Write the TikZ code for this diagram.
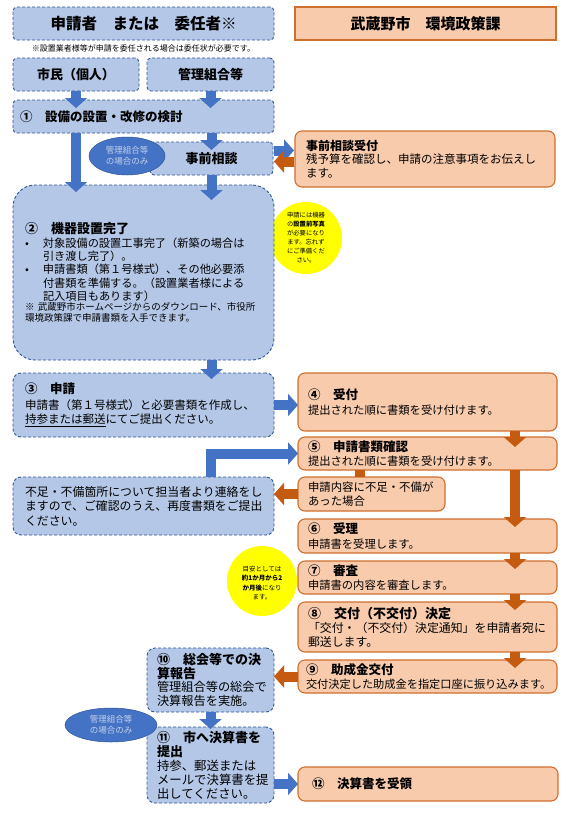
\documentclass[tikz,border=0pt]{standalone}
\usepackage{fontspec}
\setmainfont{Noto Sans CJK JP}
\usetikzlibrary{arrows.meta,shapes.geometric,calc}
\definecolor{lb}{HTML}{B4C7E7}
\definecolor{bd}{HTML}{2F5597}
\definecolor{ab}{HTML}{4472C4}
\definecolor{pe}{HTML}{F8CBAD}
\definecolor{ob}{HTML}{D0702F}
\definecolor{oa}{HTML}{C55A11}
\definecolor{ovt}{HTML}{C5D2EA}
\pgfdeclareradialshading{glow}{\pgfpoint{0bp}{0bp}}{color(0bp)=(yellow); color(27bp)=(yellow); color(50bp)=(white)}
\newcommand{\fs}[2]{\fontsize{#1}{#2}\selectfont}
\begin{document}
\begin{tikzpicture}[x=1pt,y=-1pt,
  bbox/.style={draw=bd, dash pattern=on 3pt off 2pt, line width=0.9pt, fill=lb, rounded corners=4pt, anchor=north west, inner ysep=0pt, outer sep=0pt},
  obox/.style={draw=ob, line width=1.1pt, fill=pe, rounded corners=7pt, anchor=north west, inner ysep=0pt, outer sep=0pt},
  barrow/.style={ab, line width=10pt, -{Triangle[width=22pt,length=10pt]}},
  oarrow/.style={oa, line width=10pt, -{Triangle[width=22pt,length=10pt]}},
  oval/.style={ellipse, fill=ab, draw=bd, line width=0.5pt, text=ovt, align=center, font=\fs{8.5}{10.5}, inner sep=0pt},
  glowtxt/.style={align=center, inner sep=0pt},
]
\useasboundingbox (0,0) rectangle (570,814);
\fill[white] (0,0) rectangle (570,814);

% glows
\shade[shading=glow] (306,238) circle[radius=36pt];
\shade[shading=glow] (262,581) circle[radius=35pt];

% headers
\node[bbox, minimum width=261pt, minimum height=33pt, align=center, font=\fs{15.5}{18}\bfseries] (hdrL) at (13,7) {申請者　または　委任者※};
\node[obox, sharp corners, minimum width=261pt, minimum height=33pt, align=center, font=\fs{15}{18}\bfseries] (hdrR) at (295,7) {武蔵野市　環境政策課};
\node[font=\fs{8}{10}, inner sep=0pt] (note) at (143.5,48) {※設置業者様等が申請を委任される場合は委任状が必要です。};

\node[bbox, minimum width=126pt, minimum height=33pt, font=\fs{13}{15}\bfseries] (shimin) at (13,58) {市民（個人）};
\node[bbox, minimum width=127pt, minimum height=33pt, font=\fs{13}{15}\bfseries] (kanri) at (147,58) {管理組合等};
\node[bbox, minimum height=33pt, inner xsep=7pt, text width=247pt, align=left, font=\fs{12.5}{15}\bfseries] (s1) at (13,100) {①　設備の設置・改修の検討};

% 事前相談
\node[bbox, minimum width=123pt, minimum height=33pt, font=\fs{13}{15}\bfseries] (soudan) at (150,142) {事前相談};
\node[oval, minimum width=76pt, minimum height=38pt] (oval1) at (127,156) {管理組合等\\の場合のみ};
\node[obox, minimum height=56pt, inner xsep=11pt, text width=238pt, align=left, font=\fs{11.5}{13.8}] (jizen) at (295,131) {{\fs{12}{14}\bfseries 事前相談受付}\\残予算を確認し、申請の注意事項をお伝えし\\ます。};

% ②
\node[bbox, rounded corners=22pt, minimum height=175pt, inner xsep=12pt, text width=237pt, align=left] (s2) at (13,185) {%
{\fs{13}{14}\bfseries ②　機器設置完了\par}
{\fs{11.2}{13.3}\makebox[18pt][l]{•}対象設備の設置工事完了（新築の場合は\\
\hspace*{18pt}引き渡し完了）。\\
\makebox[18pt][l]{•}申請書類（第１号様式）、その他必要添\\
\hspace*{18pt}付書類を準備する。（設置業者様による\\
\hspace*{18pt}記入項目もあります）\par}
{\fs{9.5}{10.5}※ 武蔵野市ホームページからのダウンロード、市役所\\環境政策課で申請書類を入手できます。\par}};

\node[glowtxt, font=\fs{6.3}{9}] (g1) at (306,238) {申請には機器\\の\textbf{設置前写真}\\が必要になり\\ます。忘れず\\にご準備くだ\\さい。};

% ③
\node[bbox, rounded corners=8pt, minimum height=64pt, inner xsep=12pt, text width=237pt, align=left, font=\fs{11.5}{14}] (s3) at (13,373) {{\fs{12.5}{14}\bfseries ③　申請}\\[2pt]申請書（第１号様式）と必要書類を作成し、\\\underline{持参または郵送}にてご提出ください。};

% right column
\node[obox, minimum height=58pt, inner xsep=10pt, text width=239pt, align=left, font=\fs{11.3}{14.5}] (s4) at (298,373) {{\fs{12.5}{14}\bfseries ④　受付}\\提出された順に書類を受け付けます。};
\node[obox, minimum height=33pt, inner xsep=10pt, text width=239pt, align=left, font=\fs{11.3}{13.5}] (s5) at (298,437) {{\fs{12.5}{14}\bfseries ⑤　申請書類確認}\\提出された順に書類を受け付けます。};

\node[bbox, rounded corners=8pt, minimum height=58pt, inner xsep=12pt, text width=237pt, align=left, font=\fs{11.9}{14.5}] (fusoku) at (13,477) {不足・不備箇所について担当者より連絡をし\\ますので、ご確認のうえ、再度書類をご提出\\ください。};

\node[obox, minimum height=34pt, inner xsep=10pt, text width=127pt, align=left, font=\fs{11.4}{14}] (small) at (298,477) {申請内容に不足・不備が\\あった場合};

\node[obox, minimum height=34pt, inner xsep=10pt, text width=239pt, align=left, font=\fs{11.3}{15}] (s6) at (298,519) {{\fs{12.5}{14}\bfseries ⑥　受理}\\申請書を受理します。};
\node[obox, minimum height=33pt, inner xsep=10pt, text width=239pt, align=left, font=\fs{11.3}{13.5}] (s7) at (298,561) {{\fs{12.5}{14}\bfseries ⑦　審査}\\申請書の内容を審査します。};
\node[obox, minimum height=50pt, inner xsep=10pt, text width=239pt, align=left, font=\fs{11.9}{13.5}] (s8) at (298,602) {{\fs{13}{14}\bfseries ⑧　交付（不交付）決定}\\[1pt]「交付・（不交付）決定通知」を申請者宛に\\郵送します。};
\node[obox, minimum height=33pt, inner xsep=8pt, text width=243pt, align=left, font=\fs{11.2}{13.5}] (s9) at (298,660) {{\fs{12.5}{14}\bfseries ⑨　助成金交付}\\交付決定した助成金を指定口座に振り込みます。};

\node[glowtxt, font=\fs{6.5}{9.5}] (g2) at (262,583) {目安としては\\\textbf{約1か月から2}\\\textbf{か月後}になり\\ます。};

% ⑩ ⑪
\node[bbox, rounded corners=8pt, minimum height=64pt, inner xsep=10pt, text width=107pt, align=left, font=\fs{12.2}{13.5}] (s10) at (147,648) {{\bfseries\fs{13}{14}⑩　総会等での決\\算報告}\\管理組合等の総会で\\決算報告を実施。};
\node[bbox, rounded corners=8pt, minimum height=76pt, inner xsep=10pt, text width=107pt, align=left, font=\fs{12.4}{14}] (s11) at (147,727) {{\bfseries\fs{13}{14}⑪　市へ決算書を\\提出}\\持参、郵送または\\メールで決算書を提\\出してください。};
\node[oval, minimum width=92pt, minimum height=34pt] (oval2) at (111,725) {管理組合等\\の場合のみ};

\node[obox, minimum height=34pt, inner xsep=14pt, text width=232pt, align=left, font=\fs{12.5}{14}\bfseries] (s12) at (298,767) {⑫　決算書を受領};

% arrows
\draw[barrow] (shimin.south) -- ($(shimin.south |- s1.north)+(0,8)$);
\draw[barrow] (kanri.south) -- ($(kanri.south |- s1.north)+(0,8)$);
\draw[barrow] (s1.south -| shimin.south) -- ($(shimin.south |- s2.north)+(0,7)$);
\draw[barrow] (s1.south -| soudan.north) -- ($(soudan.north)+(0,8)$);
\draw[barrow] (soudan.south) -- ($(soudan.south |- s2.north)+(0,15)$);
\draw[barrow] ($(soudan.east)+(1,-8)$) -- ($(soudan.east -| jizen.west)+(-1,-8)$);
\draw[oarrow] ($(soudan.east -| jizen.west)+(-1,3)$) -- ($(soudan.east)+(1,3)$);
\draw[barrow] (s2.south -| soudan.south) -- ($(soudan.south |- s3.north)+(0,6)$);
\draw[barrow] (s3.east) -- (s3.east -| s4.west);
\draw[barrow] (fusoku.north -| kanri.south) |- (s5.west);
\draw[oarrow] (small.west) -- (small.west -| fusoku.east);
\draw[oa, line width=10pt] ($(s5.south west)+(62,0)$) -- ($(small.north west)+(62,0)$);
\draw[oarrow] ($(s4.south east)+(-42,0)$) -- ($(s5.north east)+(-42,10)$);
\draw[oarrow] ($(s5.south east)+(-42,0)$) -- ($(s6.north east)+(-42,8)$);
\draw[oarrow] ($(s6.south east)+(-42,0)$) -- ($(s7.north east)+(-42,8)$);
\draw[oarrow] ($(s7.south east)+(-42,0)$) -- ($(s8.north east)+(-42,8)$);
\draw[oarrow] ($(s8.south east)+(-42,0)$) -- ($(s9.north east)+(-42,8)$);
\draw[oarrow] (s9.west) -- (s9.west -| s10.east);
\draw[barrow] (s10.south) -- ($(s11.north)+(0,2)$);
\draw[barrow] (s11.east |- s12.west) -- (s12.west);
\end{tikzpicture}
\end{document}
